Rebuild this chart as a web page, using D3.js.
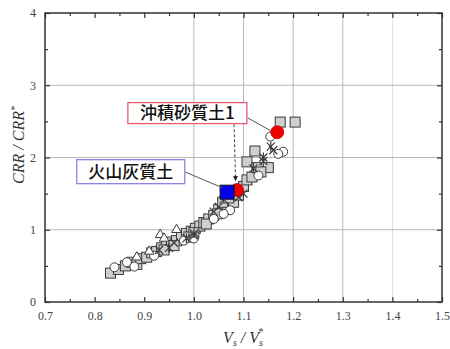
<!DOCTYPE html>
<html>
<head>
<meta charset="utf-8">
<script src="https://cdn.jsdelivr.net/npm/d3@7"></script>
<style>
  body { margin: 0; background: #fff; }
  svg { display: block; }
</style>
</head>
<body>
<div id="chart"></div>
<script>
// data (Vs/Vs*, CRR/CRR*)
var squares = [
  [0.832, 0.40], [0.848, 0.45], [0.862, 0.50], [0.875, 0.55], [0.885, 0.52],
  [0.893, 0.60], [0.905, 0.62], [0.915, 0.68], [0.925, 0.70], [0.935, 0.75],
  [0.945, 0.78], [0.955, 0.83], [0.965, 0.85], [0.975, 0.90], [0.985, 0.95],
  [0.995, 0.98], [1.003, 1.02], [1.012, 1.05], [1.020, 1.10], [1.030, 1.15],
  [1.040, 1.20], [1.050, 1.28], [1.060, 1.33], [1.048, 1.22], [1.058, 1.38],
  [1.080, 1.38], [1.090, 1.48], [1.100, 1.60], [1.107, 1.69], [1.117, 1.73],
  [1.107, 1.94], [1.127, 1.86], [1.150, 1.86], [1.123, 2.09], [1.174, 2.49],
  [1.204, 2.49], [1.135, 1.80], [1.070, 1.44], [0.940, 0.72], [0.960, 0.78],
  [0.990, 0.90], [1.000, 0.96], [1.025, 1.08]
];
var circles = [
  [0.840, 0.48], [0.865, 0.55], [0.880, 0.49], [0.920, 0.64], [1.000, 0.88],
  [1.040, 1.15], [1.073, 1.27], [1.154, 2.29], [1.180, 2.08], [1.170, 2.05],
  [1.130, 1.75], [1.060, 1.22], [0.980, 0.85]
];
var triangles = [
  [0.932, 0.93], [0.940, 0.88], [0.965, 1.00], [0.910, 0.70], [0.885, 0.62]
];
var crosses = [
  [0.930, 0.72], [0.960, 0.82], [1.000, 0.92], [1.040, 1.25], [1.060, 1.42],
  [1.100, 1.50], [1.140, 1.95], [1.160, 2.10], [1.090, 1.45], [1.050, 1.32]
];
var stars = [
  [0.950, 0.75], [1.000, 0.95], [1.060, 1.50], [1.120, 1.85], [1.140, 2.00],
  [1.155, 2.15], [0.985, 0.88]
];
var redPoints = [[1.168, 2.35], [1.087, 1.55]];
var bluePoints = [[1.067, 1.52]];

var xTicks = [0.7, 0.8, 0.9, 1.0, 1.1, 1.2, 1.3, 1.4, 1.5];
var xMinor = [0.75, 0.85, 0.95, 1.05, 1.15, 1.25, 1.35, 1.45];
var yTicks = [0, 1, 2, 3, 4];
var yMinor = [0.5, 1.5, 2.5, 3.5];
var xGrid = [1.0, 1.1, 1.2, 1.3, 1.4];
var yGrid = [1, 2, 3];

var width = 450, height = 349;
var margin = {left: 45, right: 8, top: 13, bottom: 47};

var svg = d3.select("#chart").append("svg")
  .attr("width", width)
  .attr("height", height);

var x = d3.scaleLinear().domain([0.7, 1.5]).range([margin.left, width - margin.right]);
var y = d3.scaleLinear().domain([0, 4]).range([height - margin.bottom, margin.top]);

// grid
svg.append("g").selectAll("line")
  .data(xGrid)
  .enter().append("line")
  .attr("x1", d => x(d)).attr("x2", d => x(d))
  .attr("y1", y(0)).attr("y2", y(4))
  .style("stroke", d => d == 1.4 ? "#ddd" : "#b8b8b8")
  .style("stroke-width", "1px");

svg.append("g").selectAll("line")
  .data(yGrid)
  .enter().append("line")
  .attr("x1", x(0.7)).attr("x2", x(1.5))
  .attr("y1", d => y(d)).attr("y2", d => y(d))
  .style("stroke", "#b8b8b8")
  .style("stroke-width", "1px");

// axes with inward ticks
var axisColor = "#333";
function styleAxis(g) {
  g.select(".domain").remove();
  g.selectAll("line").style("stroke", axisColor).style("stroke-width", "1.2px");
  g.selectAll("text")
    .style("font-family", "'Liberation Serif', 'Times New Roman', serif")
    .style("font-size", "12px")
    .style("fill", "#444");
}

svg.append("g")
  .attr("transform", "translate(0," + y(0) + ")")
  .call(d3.axisBottom(x).tickValues(xTicks).tickSize(-5).tickPadding(9).tickFormat(d3.format(".1f")))
  .call(styleAxis);
svg.append("g")
  .attr("transform", "translate(0," + y(0) + ")")
  .call(d3.axisBottom(x).tickValues(xMinor).tickSize(-3).tickFormat(""))
  .call(styleAxis);
svg.append("g")
  .attr("transform", "translate(0," + y(4) + ")")
  .call(d3.axisTop(x).tickValues(xTicks).tickSize(-5).tickFormat(""))
  .call(styleAxis);
svg.append("g")
  .attr("transform", "translate(0," + y(4) + ")")
  .call(d3.axisTop(x).tickValues(xMinor).tickSize(-3).tickFormat(""))
  .call(styleAxis);

svg.append("g")
  .attr("transform", "translate(" + x(0.7) + ",0)")
  .call(d3.axisLeft(y).tickValues(yTicks).tickSize(-5).tickPadding(9).tickFormat(d3.format("d")))
  .call(styleAxis);
svg.append("g")
  .attr("transform", "translate(" + x(0.7) + ",0)")
  .call(d3.axisLeft(y).tickValues(yMinor).tickSize(-3).tickFormat(""))
  .call(styleAxis);
svg.append("g")
  .attr("transform", "translate(" + x(1.5) + ",0)")
  .call(d3.axisRight(y).tickValues(yTicks).tickSize(-5).tickFormat(""))
  .call(styleAxis);
svg.append("g")
  .attr("transform", "translate(" + x(1.5) + ",0)")
  .call(d3.axisRight(y).tickValues(yMinor).tickSize(-3).tickFormat(""))
  .call(styleAxis);

// frame
svg.append("rect")
  .attr("x", x(0.7)).attr("y", y(4))
  .attr("width", x(1.5) - x(0.7)).attr("height", y(0) - y(4))
  .style("fill", "none")
  .style("stroke", axisColor)
  .style("stroke-width", "1.5px");

// markers
var mk = "#3a3a3a";
var pts = svg.append("g");

pts.selectAll(".sq").data(squares).enter().append("rect")
  .attr("x", d => x(d[0]) - 5).attr("y", d => y(d[1]) - 5)
  .attr("width", 10).attr("height", 10)
  .style("fill", "#cfcfcf").style("stroke", mk).style("stroke-width", "1px");

pts.selectAll(".ci").data(circles).enter().append("circle")
  .attr("cx", d => x(d[0])).attr("cy", d => y(d[1])).attr("r", 4.5)
  .style("fill", "#fff").style("stroke", mk).style("stroke-width", "1px");

pts.selectAll(".tr").data(triangles).enter().append("path")
  .attr("d", d3.symbol().type(d3.symbolTriangle).size(40))
  .attr("transform", d => "translate(" + x(d[0]) + "," + y(d[1]) + ")")
  .style("fill", "#fff").style("stroke", mk).style("stroke-width", "1px");

pts.selectAll(".cr").data(crosses).enter().append("path")
  .attr("d", "M-4,-4L4,4M-4,4L4,-4")
  .attr("transform", d => "translate(" + x(d[0]) + "," + y(d[1]) + ")")
  .style("fill", "none").style("stroke", mk).style("stroke-width", "1.2px");

pts.selectAll(".st").data(stars).enter().append("path")
  .attr("d", "M-4,-4L4,4M-4,4L4,-4M0,-5L0,5")
  .attr("transform", d => "translate(" + x(d[0]) + "," + y(d[1]) + ")")
  .style("fill", "none").style("stroke", mk).style("stroke-width", "1.2px");

// annotations
var ann = svg.append("g");

ann.append("line")
  .attr("x1", x(1.108)).attr("y1", y(2.55))
  .attr("x2", x(1.155)).attr("y2", y(2.37))
  .style("stroke", "#555").style("stroke-width", "1px");

ann.append("line")
  .attr("x1", x(0.982)).attr("y1", y(1.80))
  .attr("x2", x(1.058)).attr("y2", y(1.58))
  .style("stroke", "#555").style("stroke-width", "1px");

svg.append("defs").append("marker")
  .attr("id", "arr")
  .attr("viewBox", "0 0 10 10")
  .attr("refX", 9).attr("refY", 5)
  .attr("markerWidth", 5).attr("markerHeight", 5)
  .attr("orient", "auto")
  .append("path").attr("d", "M0,0L10,5L0,10z").style("fill", "#222");

ann.append("line")
  .attr("x1", x(1.081)).attr("y1", y(2.46))
  .attr("x2", x(1.084)).attr("y2", y(1.68))
  .style("stroke", "#444").style("stroke-width", "1px")
  .style("stroke-dasharray", "3,2")
  .attr("marker-end", "url(#arr)");

pts.selectAll(".rd").data(redPoints).enter().append("circle")
  .attr("cx", d => x(d[0])).attr("cy", d => y(d[1])).attr("r", 6.5)
  .style("fill", "#ee0000").style("stroke", "#c00").style("stroke-width", "0.8px");
pts.selectAll(".bl").data(bluePoints).enter().append("rect")
  .attr("x", d => x(d[0]) - 7).attr("y", d => y(d[1]) - 7)
  .attr("width", 14).attr("height", 14)
  .style("fill", "#0000ee").style("stroke", "#111").style("stroke-width", "1px");

var labels = [
  {text: "沖積砂質土1", x0: 0.867, y0: 2.76, w: 119, h: 21, color: "#e65a72"},
  {text: "火山灰質土", x0: 0.764, y0: 1.97, w: 108, h: 24, color: "#8a84e8"}
];

labels.forEach(function(d) {
  var g = ann.append("g")
    .attr("transform", "translate(" + x(d.x0) + "," + y(d.y0) + ")");
  g.append("rect")
    .attr("width", d.w).attr("height", d.h)
    .style("fill", "#fff")
    .style("stroke", d.color)
    .style("stroke-width", "1.3px");
  g.append("text")
    .attr("x", d.w / 2).attr("y", d.h / 2 + 6)
    .attr("text-anchor", "middle")
    .style("font-family", "'Noto Sans CJK JP', sans-serif")
    .style("font-weight", "500")
    .style("font-size", "17px")
    .style("fill", "#111")
    .text(d.text);
});

// axis titles
var yt = svg.append("text")
  .attr("transform", "translate(24,145) rotate(-90)")
  .attr("text-anchor", "middle")
  .style("font-family", "'Liberation Serif', 'Times New Roman', serif")
  .style("font-style", "italic")
  .style("font-size", "16px")
  .style("fill", "#333");
yt.append("tspan").text("CRR / CRR");
yt.append("tspan").attr("dy", "-6").style("font-size", "10px").text("*");

var xt = svg.append("text")
  .attr("x", 243).attr("y", 343)
  .attr("text-anchor", "middle")
  .style("font-family", "'Liberation Serif', 'Times New Roman', serif")
  .style("font-style", "italic")
  .style("font-size", "16px")
  .style("fill", "#333");
xt.append("tspan").text("V");
xt.append("tspan").attr("dy", "3").style("font-size", "10px").text("s");
xt.append("tspan").attr("dy", "-3").text(" / V");
xt.append("tspan").attr("dy", "3").style("font-size", "10px").text("s");
xt.append("tspan").attr("dy", "-11").attr("dx", "-5").style("font-size", "10px").text("*");
</script>
</body>
</html>
